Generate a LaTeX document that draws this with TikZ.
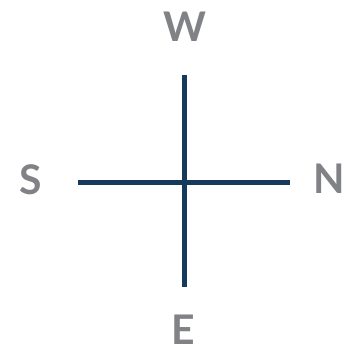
\documentclass[tikz,border=0pt]{standalone}
\usepackage{fontspec}
\setmainfont{Lato}
\definecolor{navy}{HTML}{143A5C}
\definecolor{lab}{HTML}{808285}
\begin{document}
\begin{tikzpicture}[x=1bp,y=-1bp,
  dir/.style={text=lab,font=\fontsize{41}{41}\selectfont\bfseries,inner sep=0pt,anchor=center},
  bar/.style={draw=navy,line width=5bp}]
\useasboundingbox (0,0) rectangle (350,352);
\coordinate (t) at (184,75);
\coordinate (b) at (184,287);
\coordinate (l) at (78,182);
\coordinate (r) at (290,182);
\draw[bar] (t) -- (b);
\draw[bar] (l) -- (r);
\node[dir] (w) at (184.5,27) {W};
\node[dir] (s) at (30.5,179.5) {S};
\node[dir] (n) at (329,178.5) {N};
\node[dir] (e) at (183,329.5) {E};
\end{tikzpicture}
\end{document}
